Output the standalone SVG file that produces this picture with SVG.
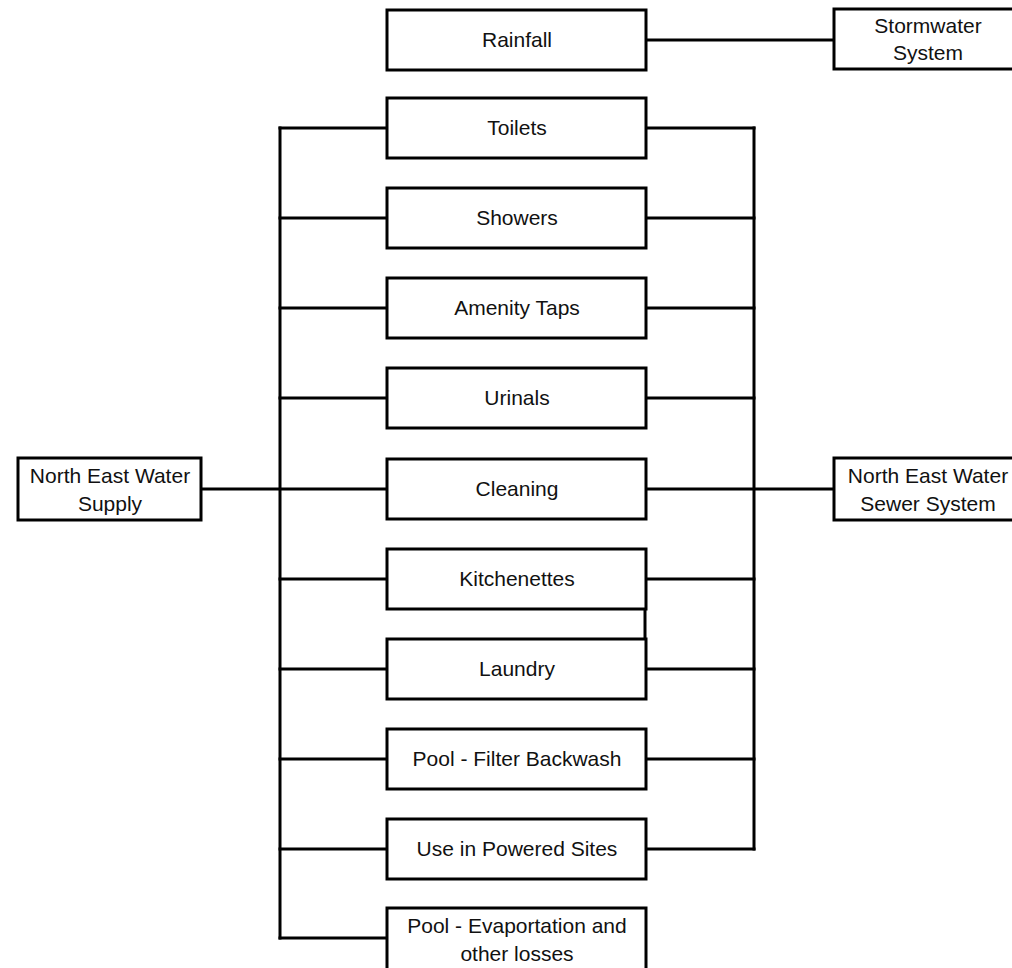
<svg xmlns="http://www.w3.org/2000/svg" width="1012" height="968" viewBox="0 0 1012 968">
<style>
.box{fill:#fff;stroke:#000;stroke-width:3}
.t{font-family:"Liberation Sans",Arial,sans-serif;font-size:21px;fill:#111;text-anchor:middle}
.c{fill:none;stroke:#000;stroke-width:3;stroke-linecap:square}
</style>
<rect width="1012" height="968" fill="#fff"/>
<g id="connectors">
<line class="c" x1="646" y1="40" x2="834" y2="40"/>
<line class="c" x1="280" y1="128" x2="280" y2="938"/>
<line class="c" x1="201" y1="489" x2="387" y2="489"/>
<line class="c" x1="754" y1="128" x2="754" y2="849"/>
<line class="c" x1="646" y1="489" x2="834" y2="489"/>
<path class="c" d="M280 128H387M280 218H387M280 308H387M280 398H387M280 579H387M280 669H387M280 759H387M280 849H387M280 938H387"/>
<path class="c" d="M646 128H754M646 218H754M646 308H754M646 398H754M646 579H754M646 669H754M646 759H754M646 849H754"/>
<line class="c" x1="645" y1="609" x2="645" y2="639"/>
</g>
<g id="rainfall"><rect class="box" x="387" y="10" width="259" height="60"/><text class="t" x="517" y="47">Rainfall</text></g>
<g id="stormwater"><rect class="box" x="834" y="9" width="190" height="60"/><text class="t" x="928" y="33">Stormwater</text><text class="t" x="928" y="60">System</text></g>
<g id="toilets"><rect class="box" x="387" y="98" width="259" height="60"/><text class="t" x="517" y="135">Toilets</text></g>
<g id="showers"><rect class="box" x="387" y="188" width="259" height="60"/><text class="t" x="517" y="225">Showers</text></g>
<g id="amenity"><rect class="box" x="387" y="278" width="259" height="60"/><text class="t" x="517" y="315">Amenity Taps</text></g>
<g id="urinals"><rect class="box" x="387" y="368" width="259" height="60"/><text class="t" x="517" y="405">Urinals</text></g>
<g id="cleaning"><rect class="box" x="387" y="459" width="259" height="60"/><text class="t" x="517" y="496">Cleaning</text></g>
<g id="kitchenettes"><rect class="box" x="387" y="549" width="259" height="60"/><text class="t" x="517" y="586">Kitchenettes</text></g>
<g id="laundry"><rect class="box" x="387" y="639" width="259" height="60"/><text class="t" x="517" y="676">Laundry</text></g>
<g id="pool-filter"><rect class="box" x="387" y="729" width="259" height="60"/><text class="t" x="517" y="766">Pool - Filter Backwash</text></g>
<g id="powered"><rect class="box" x="387" y="819" width="259" height="60"/><text class="t" x="517" y="856">Use in Powered Sites</text></g>
<g id="pool-evap"><rect class="box" x="387" y="908" width="259" height="70"/><text class="t" x="517" y="933">Pool - Evaportation and</text><text class="t" x="517" y="961">other losses</text></g>
<g id="supply"><rect class="box" x="18" y="458" width="183" height="62"/><text class="t" x="110" y="483">North East Water</text><text class="t" x="110" y="511">Supply</text></g>
<g id="sewer"><rect class="box" x="834" y="458" width="190" height="62"/><text class="t" x="928" y="483">North East Water</text><text class="t" x="928" y="511">Sewer System</text></g>
</svg>
